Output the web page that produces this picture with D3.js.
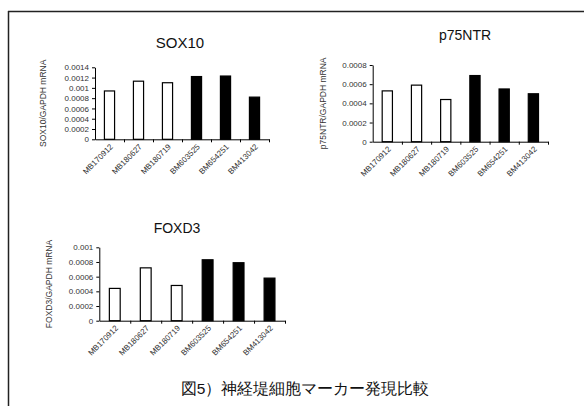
<!DOCTYPE html>
<html>
<head>
<meta charset="utf-8">
<script src="https://cdn.jsdelivr.net/npm/d3@7/dist/d3.min.js"></script>
<style>
  html, body { margin: 0; padding: 0; background: #fff; }
  svg { display: block; }
  text { font-family: Arial, "Liberation Sans", sans-serif; }
</style>
</head>
<body>
<svg id="fig" width="584" height="406"></svg>
<script>
// Cell lines: three MB samples (open bars) and three BM samples (filled bars)
const samples = ["MB170912", "MB180627", "MB180719", "BM603525", "BM654251", "BM413042"];
const sampleGroup = ["MB", "MB", "MB", "BM", "BM", "BM"];

// Marker expression relative to GAPDH
const sox10Values  = [0.00094, 0.00113, 0.00110, 0.00122, 0.00123, 0.00082];
const p75ntrValues = [0.00053, 0.00059, 0.00044, 0.00069, 0.00055, 0.00050];
const foxd3Values  = [0.00044, 0.00072, 0.00048, 0.00083, 0.00079, 0.00058];

// Y axis tick values per panel
const sox10Ticks  = [0, 0.0002, 0.0004, 0.0006, 0.0008, 0.001, 0.0012, 0.0014];
const p75ntrTicks = [0, 0.0002, 0.0004, 0.0006, 0.0008];
const foxd3Ticks  = [0, 0.0002, 0.0004, 0.0006, 0.0008, 0.001];

const caption = "図5）神経堤細胞マーカー発現比較";

const svg = d3.select("#fig");

// Outer frame: top and left rules
svg.append("line").attr("x1", 8).attr("x2", 584).attr("y1", 11.5).attr("y2", 11.5)
  .attr("stroke", "#222").attr("stroke-width", 1.5);
svg.append("line").attr("x1", 8.5).attr("x2", 8.5).attr("y1", 11).attr("y2", 406)
  .attr("stroke", "#222").attr("stroke-width", 1.5);

const fmt = d => d === 0 ? "0" : String(+d.toFixed(4));

function panel(opt) {
  const g = svg.append("g");
  const n = samples.length;

  const y = d3.scaleLinear().domain([0, opt.ticks[opt.ticks.length - 1]])
    .range([opt.base, opt.top]);
  const xBand = d3.scaleBand().domain(samples).range([opt.left, opt.right])
    .paddingInner(0.65).paddingOuter(0.325);
  const xIdx = d3.scaleLinear().domain([0, n]).range([opt.left, opt.right]);

  // bars
  g.selectAll("rect.bar").data(opt.values).join("rect")
    .attr("class", "bar")
    .attr("x", (d, i) => xBand(samples[i]))
    .attr("width", xBand.bandwidth())
    .attr("y", d => y(d))
    .attr("height", d => y(0) - y(d))
    .attr("fill", (d, i) => sampleGroup[i] === "BM" ? "#000" : "#fff")
    .attr("stroke", "#000")
    .attr("stroke-width", 1.2);

  // y axis
  const ya = g.append("g").attr("transform", `translate(${opt.left},0)`)
    .call(d3.axisLeft(y).tickValues(opt.ticks).tickFormat(fmt).tickSize(3).tickSizeOuter(0));
  ya.select(".domain").attr("stroke", "#000");
  ya.selectAll(".tick line").attr("stroke", "#000");
  ya.selectAll(".tick text").attr("font-size", 8).attr("fill", "#333")
    .attr("font-family", "Arial, 'Liberation Sans', sans-serif");

  // x axis with ticks on category boundaries
  const xa = g.append("g").attr("transform", `translate(0,${opt.base})`)
    .call(d3.axisBottom(xIdx).tickValues(d3.range(1, n + 1)).tickFormat("").tickSize(3).tickSizeOuter(0));
  xa.select(".domain").attr("stroke", "#000");
  xa.selectAll(".tick line").attr("stroke", "#000");

  // rotated category labels
  g.selectAll("text.cat").data(samples).join("text")
    .attr("class", "cat")
    .attr("text-anchor", "end")
    .attr("font-size", 8)
    .attr("fill", "#333")
    .attr("transform", d => `translate(${xBand(d) + xBand.bandwidth() / 2 + 4},${opt.base + 8}) rotate(-45)`)
    .text(d => d);

  // y axis title
  g.append("text")
    .attr("transform", `translate(${opt.ytitleX},${(opt.top + opt.base) / 2}) rotate(-90)`)
    .attr("text-anchor", "middle")
    .attr("font-size", 8.5)
    .attr("fill", "#333")
    .text(opt.ytitle);

  // panel title
  g.append("text")
    .attr("x", opt.titleX).attr("y", opt.titleY)
    .attr("text-anchor", "middle")
    .attr("font-size", opt.titleSize)
    .attr("fill", "#111")
    .text(opt.title);
}

panel({ title: "SOX10", ytitle: "SOX10/GAPDH mRNA", values: sox10Values, ticks: sox10Ticks,
        left: 95, right: 269, top: 67.3, base: 139.3, ytitleX: 46, titleX: 180, titleY: 48, titleSize: 15 });
panel({ title: "p75NTR", ytitle: "p75NTR/GAPDH mRNA", values: p75ntrValues, ticks: p75ntrTicks,
        left: 372.7, right: 548, top: 65, base: 141.7, ytitleX: 326, titleX: 465, titleY: 40, titleSize: 14 });
panel({ title: "FOXD3", ytitle: "FOXD3/GAPDH mRNA", values: foxd3Values, ticks: foxd3Ticks,
        left: 99.3, right: 285, top: 247.3, base: 320.7, ytitleX: 52, titleX: 177, titleY: 233, titleSize: 14 });

svg.append("text")
  .attr("x", 305).attr("y", 394)
  .attr("text-anchor", "middle")
  .attr("font-size", 15.5)
  .attr("font-family", "'Noto Sans CJK JP', sans-serif")
  .attr("fill", "#111")
  .text(caption);
</script>
</body>
</html>
